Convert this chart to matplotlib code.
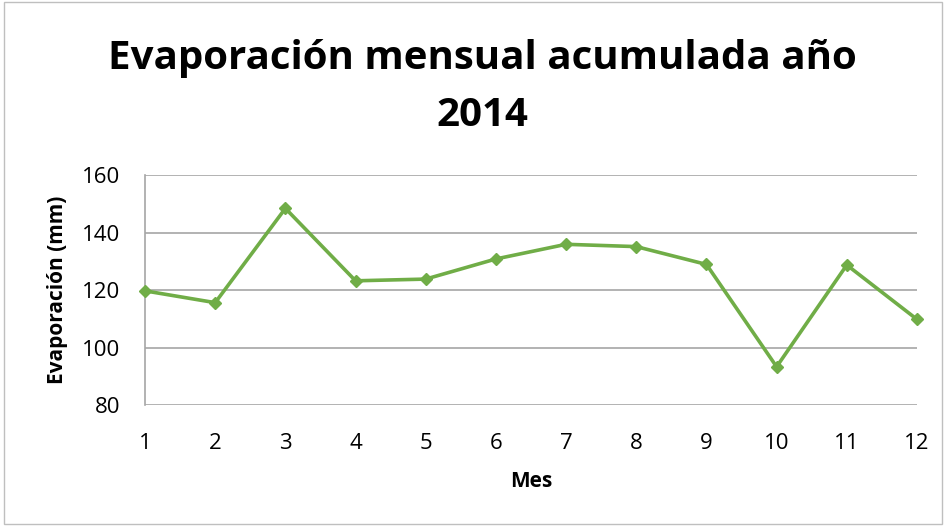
import matplotlib.pyplot as plt
from matplotlib.patches import Rectangle

meses = [1, 2, 3, 4, 5, 6, 7, 8, 9, 10, 11, 12]
evaporacion = [119.8, 115.7, 148.5, 123.3, 123.9, 130.9, 136.0, 135.2, 129.0, 93.4, 128.8, 109.9]
y_ticks = [80, 100, 120, 140, 160]

plt.rcParams['font.family'] = ['Open Sans', 'DejaVu Sans']

fig = plt.figure(figsize=(9.46, 5.26), dpi=100)
fig.patches.append(Rectangle((0.004, 0.004), 0.992, 0.992, transform=fig.transFigure,
                             fill=False, edgecolor="#BFBFBF", linewidth=1))
ax = fig.add_axes([0.1533, 0.2295, 0.816, 0.4372])

ax.plot(meses, evaporacion, color="#70AD47", linewidth=2.6, marker="D", markersize=6,
        clip_on=False, zorder=3)

ax.set_xlim(1, 12)
ax.set_ylim(80, 160)
ax.set_xticks(meses)
ax.set_yticks(y_ticks)
ax.grid(axis="y", color="#A6A6A6", linewidth=1.2)
ax.tick_params(length=0, labelsize=16, pad=18)
ax.tick_params(axis="x", pad=20)
for s in ["top", "right", "bottom"]:
    ax.spines[s].set_visible(False)
ax.spines["left"].set_color("#A6A6A6")
ax.spines["left"].set_linewidth(1.2)

ax.set_xlabel("Mes", fontsize=15, fontweight="bold", labelpad=12)
ax.set_ylabel("Evaporación (mm)", fontsize=15, fontweight="bold", labelpad=10)
fig.text(0.51, 0.835, "Evaporación mensual acumulada año\n2014", ha="center", va="center",
         fontsize=29, fontweight="bold", linespacing=1.6)

fig.savefig("out.png", dpi=100)
